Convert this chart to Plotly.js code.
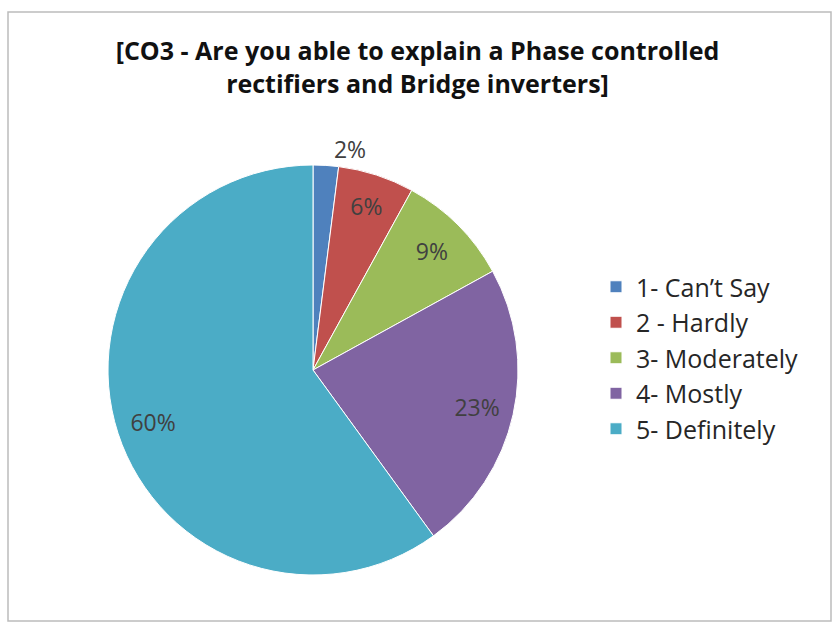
<!DOCTYPE html>
<html>
<head>
<meta charset="utf-8">
<script src="https://cdn.plot.ly/plotly-3.0.1.min.js"></script>
<style>
html,body{margin:0;padding:0;background:#fff;}
#chart{width:835px;height:624px;}
</style>
</head>
<body>
<div id="chart"></div>
<script>
const categories = ["1- Can\u2019t Say", "2 - Hardly", "3- Moderately", "4- Mostly", "5- Definitely"];
const values = [2, 6, 9, 23, 60];
const colors = ["#4F81BD", "#C0504D", "#9BBB59", "#8064A2", "#4BACC6"];
const labelPositions = ["outside", "inside", "inside", "inside", "inside"];
const titleText = "[CO3 - Are you able to explain a Phase controlled<br>rectifiers and Bridge inverters]";

const W = 835, H = 624;
const cx = 313, cy = 370, r = 205;
const dom = {x: [(cx - r) / W, (cx + r) / W], y: [1 - (cy + r) / H, 1 - (cy - r) / H]};
const labelFont = {family: "Open Sans, sans-serif", size: 23, color: "#404040"};

// visible pie (slices + legend)
const pieTrace = {
  type: "pie",
  labels: categories,
  values: values,
  sort: false,
  direction: "clockwise",
  rotation: 0,
  marker: {colors: colors, line: {color: "#ffffff", width: 1}},
  textinfo: "none",
  domain: dom,
  hoverinfo: "label+percent"
};

// transparent ring that only carries the percentage labels (placed further out, like Excel)
const labelTrace = {
  type: "pie",
  labels: categories,
  values: values,
  sort: false,
  direction: "clockwise",
  rotation: 0,
  hole: 0.64,
  showlegend: false,
  marker: {colors: values.map(() => "rgba(0,0,0,0)"), line: {width: 0}},
  texttemplate: "%{percent:.0%}",
  textposition: labelPositions,
  insidetextorientation: "horizontal",
  textfont: labelFont,
  insidetextfont: labelFont,
  outsidetextfont: labelFont,
  domain: dom,
  hoverinfo: "skip"
};

const layout = {
  width: W, height: H,
  margin: {l: 0, r: 0, t: 0, b: 0},
  paper_bgcolor: "#ffffff",
  title: {
    text: titleText,
    font: {family: "Open Sans, sans-serif", size: 25, color: "#111111", weight: "bold"},
    x: 0.5, xanchor: "center", y: 1 - 60 / H, yanchor: "middle", yref: "container"
  },
  showlegend: true,
  legend: {
    x: 596 / W, xanchor: "left", y: 1 - 358 / H, yanchor: "middle",
    font: {family: "Open Sans, sans-serif", size: 25, color: "#262626"},
    bgcolor: "rgba(0,0,0,0)", traceorder: "normal"
  },
  shapes: [{
    type: "rect", xref: "paper", yref: "paper",
    x0: 8 / W, x1: 831 / W, y0: 1 - 621 / H, y1: 1 - 12 / H,
    line: {color: "#bcbcbc", width: 1.5}, fillcolor: "rgba(0,0,0,0)"
  }]
};

Plotly.newPlot("chart", [pieTrace, labelTrace], layout, {displayModeBar: false, staticPlot: true});
</script>
</body>
</html>
